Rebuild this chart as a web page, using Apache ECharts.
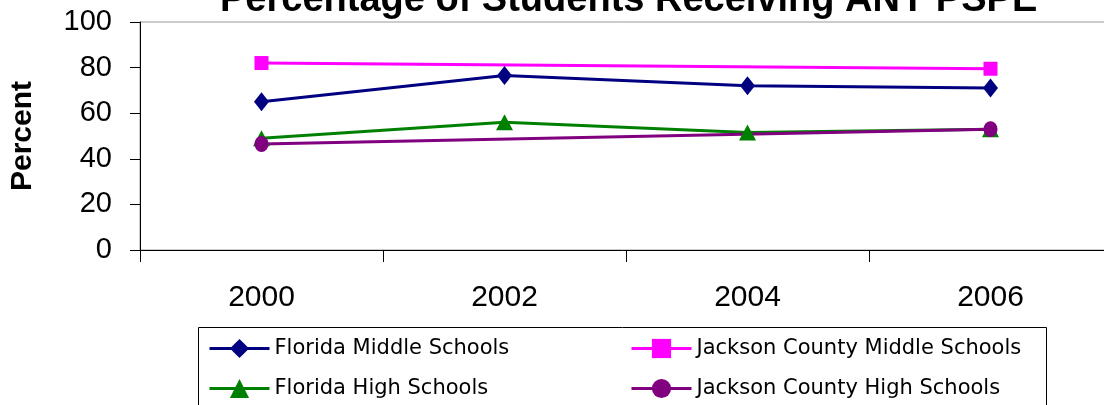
<!DOCTYPE html>
<html><head><meta charset="utf-8">
<script src="https://cdn.jsdelivr.net/npm/echarts@6/dist/echarts.min.js"></script>
<style>html,body{margin:0;padding:0;background:#fff}#c{width:1104px;height:405px}</style>
</head><body><div id="c"></div>
<script>
const years = ['2000', '2002', '2004', '2006'];
const floridaMiddle = [65, 76.5, 72, 71];
const jacksonMiddle = [82, null, null, 79.5];
const floridaHigh = [49, 56, 51.5, 53];
const jacksonHigh = [46.5, null, null, 53];
const yTicks = [0, 20, 40, 60, 80, 100];

const F = 'Arial, "Liberation Sans", sans-serif';
const chart = echarts.init(document.getElementById('c'));
function mkSeries(name, data, color, symbol, size) {
  return { name, type: 'line', data, connectNulls: true, symbol, symbolSize: size,
    lineStyle: { color, width: 3 }, itemStyle: { color }, animation: false };
}
function mkLegend(name, left, top) {
  return { data: [name], left, top, padding: 5, itemWidth: 60, itemHeight: 24, itemGap: 0,
    lineStyle: { width: 3 },
    textStyle: { fontFamily: '"DejaVu Sans", sans-serif', fontSize: 21, color: '#000' } };
}
chart.setOption({
  animation: false,
  title: { text: 'Percentage of Students Receiving ANY PSPE', left: 215, top: -23,
    textStyle: { fontFamily: F, fontSize: 38, fontWeight: 'bold', color: '#000' } },
  grid: { left: 140, top: 22, width: 972, height: 228, outerBoundsMode: 'none', containLabel: false,
    show: true, borderColor: '#999', borderWidth: 1 },
  xAxis: { type: 'category', data: years, boundaryGap: true,
    axisLine: { lineStyle: { color: '#000', width: 1 } },
    axisTick: { show: true, length: 12, lineStyle: { color: '#000' } },
    axisLabel: { fontFamily: F, fontSize: 30, color: '#000', margin: 33 } },
  yAxis: { type: 'value', min: 0, max: 100, interval: 20, name: 'Percent',
    nameLocation: 'middle', nameGap: 102, nameRotate: 90,
    nameTextStyle: { fontFamily: F, fontSize: 30, fontWeight: 'bold', color: '#000' },
    splitLine: { show: false },
    axisLine: { show: true, lineStyle: { color: '#000', width: 1 } },
    axisTick: { show: true, length: 10, lineStyle: { color: '#000' } },
    axisLabel: { fontFamily: F, fontSize: 29, color: '#000', margin: 28,
      formatter: v => yTicks.includes(v) ? String(v) : '' } },
  legend: [
    mkLegend('Florida Middle Schools', 203, 333),
    mkLegend('Jackson County Middle Schools', 625, 333),
    mkLegend('Florida High Schools', 203, 373),
    mkLegend('Jackson County High Schools', 625, 373)
  ],
  graphic: [{ type: 'rect', shape: { x: 198.5, y: 327.5, width: 848, height: 90 },
    style: { fill: 'none', stroke: '#000', lineWidth: 1 } }],
  series: [
    mkSeries('Florida Middle Schools', floridaMiddle, '#000080', 'diamond', [15, 19]),
    mkSeries('Jackson County Middle Schools', jacksonMiddle, '#FF00FF', 'rect', 14),
    mkSeries('Florida High Schools', floridaHigh, '#008000', 'triangle', [17, 16]),
    mkSeries('Jackson County High Schools', jacksonHigh, '#800080', 'circle', [14, 16])
  ]
});
</script></body></html>
